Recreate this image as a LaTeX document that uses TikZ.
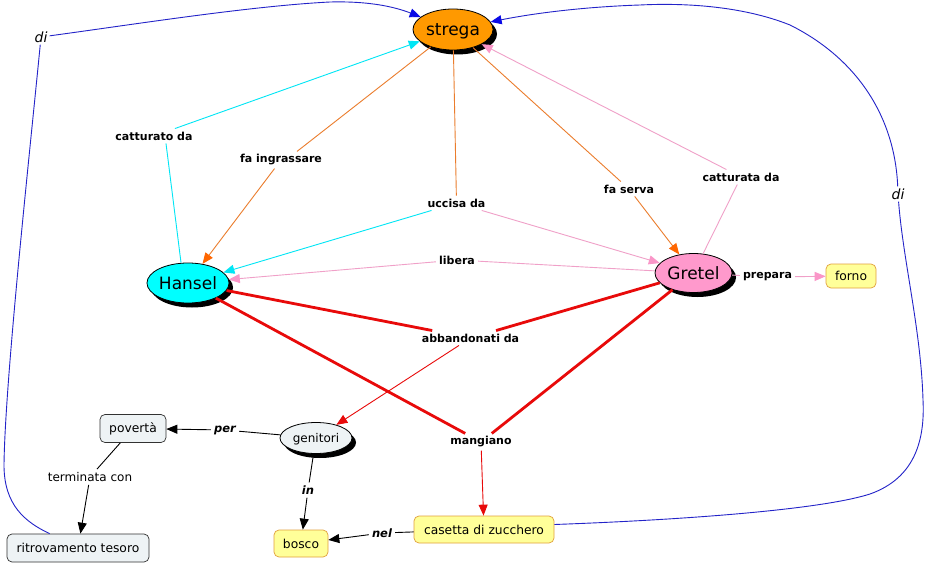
\documentclass[tikz,border=0pt]{standalone}
\usepackage{fontspec}
\setmainfont{DejaVu Sans}
\usetikzlibrary{shapes.geometric,shadows,arrows.meta}
\definecolor{strOr}{RGB}{255,153,0}
\definecolor{hanC}{RGB}{0,255,255}
\definecolor{grePk}{RGB}{255,153,204}
\definecolor{cyL}{RGB}{0,230,245}
\definecolor{orL}{RGB}{235,125,45}
\definecolor{orT}{RGB}{255,102,0}
\definecolor{pkL}{RGB}{240,160,200}
\definecolor{pkT}{RGB}{250,150,200}
\definecolor{rdL}{RGB}{232,10,10}
\definecolor{blL}{RGB}{35,35,200}
\definecolor{blT}{RGB}{10,10,230}
\definecolor{greyFill}{RGB}{238,243,245}
\definecolor{greyDraw}{RGB}{50,50,50}
\definecolor{yelFill}{RGB}{255,255,153}
\definecolor{yelDraw}{RGB}{225,160,60}
\begin{document}
\begin{tikzpicture}[x=1pt,y=-1pt,
  concept/.style={ellipse, draw=black, line width=0.8pt, inner sep=0pt, text depth=0pt,
    font=\fontsize{17}{17}\selectfont,
    drop shadow={shadow xshift=4pt, shadow yshift=-4.5pt, fill=black, opacity=1}},
  lbl/.style={font=\bfseries\fontsize{11}{11}\selectfont, inner sep=3pt},
  lbli/.style={font=\bfseries\itshape\fontsize{11.5}{11.5}\selectfont, inner sep=3pt},
  dil/.style={font=\itshape\fontsize{14}{14}\selectfont, inner sep=2pt},
  plain/.style={font=\fontsize{12}{12}\selectfont, inner sep=3pt},
  gbox/.style={draw=greyDraw, fill=greyFill, line width=0.7pt, rounded corners=5pt,
    minimum height=28pt, inner xsep=4pt, font=\fontsize{12.3}{12.3}\selectfont},
  ybox/.style={draw=yelDraw, fill=yelFill, line width=0.7pt, rounded corners=5pt,
    minimum height=27pt, inner xsep=4pt, font=\fontsize{12.3}{12.3}\selectfont},
  tip/.style={-{Triangle[length=11pt,width=9pt,color=#1]}},
  cyl/.style={draw=cyL, line width=0.9pt},
  orl/.style={draw=orL, line width=0.9pt},
  pkl/.style={draw=pkL, line width=0.9pt},
  rdthick/.style={draw=rdL, line width=2.8pt},
  rdthin/.style={draw=rdL, line width=0.9pt},
  bkl/.style={draw=black, line width=0.9pt},
  bll/.style={draw=blL, line width=0.9pt}
]
\useasboundingbox (0,0) rectangle (926,564);
\fill[white] (0,0) rectangle (926,564);

% concepts
\node[concept, fill=strOr, minimum width=80pt, minimum height=41pt] (strega) at (453,29.5) {strega};
\node[concept, fill=hanC, minimum width=82pt, minimum height=40pt] (hansel) at (188,283) {Hansel};
\node[concept, fill=grePk, minimum width=77pt, minimum height=39pt] (gretel) at (693.5,273) {Gretel};
\node[concept, fill=greyFill, minimum width=72pt, minimum height=31pt,
      font=\fontsize{12}{12}\selectfont] (genitori) at (316,438) {genitori};
\node[gbox, minimum width=66pt] (poverta) at (133,428.5) {povertà};
\node[gbox, minimum width=142pt] (ritr) at (78,548) {ritrovamento tesoro};
\node[ybox, minimum width=54pt] (bosco) at (301,543.5) {bosco};
\node[ybox, minimum width=140pt] (casetta) at (484,529.5) {casetta di zucchero};
\node[ybox, minimum width=50pt, minimum height=24pt] (forno) at (851,276) {forno};

% linking phrases
\node[lbl] (catt) at (154,136) {catturato da};
\node[lbl] (ingr) at (281,160) {fa ingrassare};
\node[lbl] (uccisa) at (456.5,203) {uccisa da};
\node[lbl] (serva) at (629,189) {fa serva};
\node[lbl] (cattA) at (741,177) {catturata da};
\node[lbl] (libera) at (457,260) {libera};
\node[lbl] (prepara) at (767.5,277) {prepara};
\node[lbl] (abb) at (470.5,338) {abbandonati da};
\node[lbl] (mang) at (481,442) {mangiano};
\node[lbli] (per) at (225,430) {per};
\node[lbli] (in) at (308,490) {in};
\node[lbli] (nel) at (382,533) {nel};
\node[dil] (di1) at (41,37) {di};
\node[dil] (di2) at (898,194) {di};
\node[plain] (term) at (90,477) {terminata con};

% Hansel catturato da strega
\draw[cyl] ([xshift=-7pt]hansel.north) -- ([xshift=12pt]catt.south);
\draw[cyl, tip=cyL] (catt) -- (strega);
% strega fa ingrassare Hansel
\draw[orl] (strega) -- ([xshift=16pt]ingr.north);
\draw[orl, tip=orT] (ingr) -- (hansel);
% strega uccisa da Hansel, Gretel
\draw[orl] (strega) -- (uccisa);
\draw[cyl, tip=cyL] (uccisa) -- (hansel);
\draw[pkl, tip=pkT] (uccisa) -- (gretel);
% strega fa serva Gretel
\draw[orl] (strega) -- (serva);
\draw[orl, tip=orT] (serva) -- (gretel);
% Gretel catturata da strega
\draw[pkl] (gretel) -- (cattA);
\draw[pkl, tip=pkT] (cattA) -- (strega);
% Gretel libera Hansel
\draw[pkl] (gretel) -- (libera);
\draw[pkl, tip=pkT] (libera) -- (hansel);
% Gretel prepara forno
\draw[pkl] (gretel) -- (prepara);
\draw[pkl, tip=pkT] (prepara) -- (forno);
% abbandonati da genitori
\draw[rdthick] (hansel) -- (abb);
\draw[rdthick] (gretel) -- (abb);
\draw[rdthin, tip=rdL] (abb) -- (genitori);
% mangiano casetta
\draw[rdthick] (hansel) -- (mang);
\draw[rdthick] (gretel) -- (mang);
\draw[rdthin, tip=rdL] (mang) -- (casetta);
% genitori per poverta
\draw[bkl] (genitori) -- (per);
\draw[bkl, tip=black] (per) -- (poverta);
% poverta terminata con ritrovamento tesoro
\draw[bkl] (poverta) -- (term);
\draw[bkl, tip=black] (term) -- (ritr);
% genitori in bosco
\draw[bkl] (genitori) -- (in);
\draw[bkl, tip=black] (in) -- (bosco);
% casetta nel bosco
\draw[bkl] (casetta) -- (nel);
\draw[bkl, tip=black] (nel) -- (bosco);

% ritrovamento tesoro di strega
\draw[bll] ([xshift=43pt]ritr.north west) .. controls (25,522) and (4,505) .. (4,465)
   .. controls (5,380) and (30,150) .. (di1);
\draw[bll, tip=blT] (di1) .. controls (130,25) and (250,6) .. (330,2)
   .. controls (370,1) and (395,7) .. (strega);
% casetta di strega
\draw[bll] ([yshift=5pt]casetta.east) .. controls (680,520) and (820,510) .. (870,494)
   .. controls (915,478) and (925,440) .. (923,400)
   .. controls (921,330) and (903,260) .. (di2);
\draw[bll, tip=blT] (di2) .. controls (895,120) and (860,60) .. (790,25)
   .. controls (740,5) and (680,3) .. (640,5)
   .. controls (580,7) and (530,14) .. (strega);
\end{tikzpicture}
\end{document}
